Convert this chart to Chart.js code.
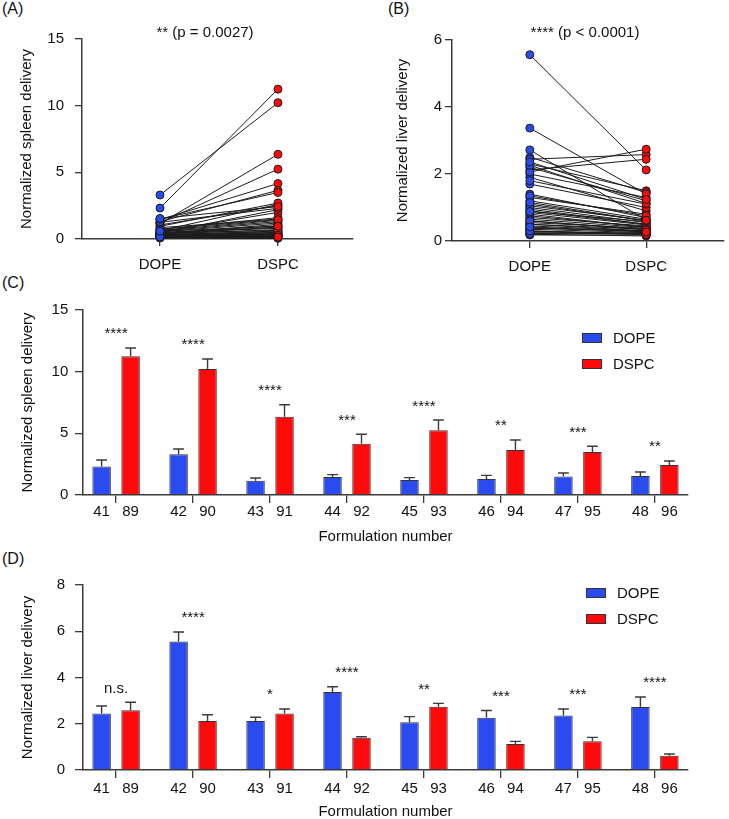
<!DOCTYPE html>
<html><head><meta charset="utf-8">
<script src="https://cdn.jsdelivr.net/npm/chart.js@4.4.0/dist/chart.umd.min.js"></script>
<style>
html,body{margin:0;padding:0;background:#fff;width:729px;height:819px;overflow:hidden;position:relative;}
canvas{position:absolute;}
.lab{position:absolute;font-family:"Liberation Sans",Arial,sans-serif;font-size:16px;line-height:16px;color:#111;}
</style></head><body>
<div class="lab" style="left:2px;top:1px">(A)</div>
<div class="lab" style="left:388px;top:1px">(B)</div>
<div class="lab" style="left:2px;top:275px">(C)</div>
<div class="lab" style="left:2px;top:551px">(D)</div>
<canvas id="cA" width="360" height="285" style="left:0;top:0"></canvas>
<canvas id="cB" width="369" height="285" style="left:360px;top:0"></canvas>
<canvas id="cC" width="729" height="265" style="left:0;top:285px"></canvas>
<canvas id="cD" width="729" height="265" style="left:0;top:560px"></canvas>
<script>
// ---------- data ----------
const pairCategories = ['DOPE', 'DSPC'];
// Panel A: normalized spleen delivery, formulations 1-48 (DOPE) paired with 49-96 (DSPC)
const spleenDOPE = [0.62,0.35,0.18,0.45,0.28,0.12,0.85,0.52,0.22,0.40,1.05,0.30,0.15,0.65,0.48,0.25,0.10,0.38,0.72,0.20,
  0.55,0.32,0.14,0.95,0.42,0.26,0.60,0.18,0.08,0.35,1.25,0.50,0.22,0.30,0.75,0.12,0.44,0.28,0.16,0.58,
  2.32,3.30,1.16,1.46,1.22,1.30,1.49,1.54];
const spleenDSPC = [2.6,0.9,0.3,2.2,0.5,0.15,1.5,2.0,0.4,1.1,2.5,0.6,0.2,1.4,0.8,0.35,0.1,0.7,1.6,0.25,
  1.2,0.45,0.12,2.7,1.0,0.3,1.3,0.18,0.05,0.55,2.3,0.85,0.2,0.4,1.45,0.08,0.65,0.28,0.15,0.95,
  11.24,10.22,6.35,4.16,5.24,3.65,3.49,2.43];
// Panel B: normalized liver delivery
const liverDOPE = [0.9,1.4,0.5,2.3,0.7,0.25,1.9,1.1,0.35,0.8,2.5,0.6,0.2,1.3,1.0,0.45,0.18,0.75,2.0,0.3,
  1.2,0.55,0.4,2.2,0.95,0.28,1.7,0.65,0.22,0.85,1.8,1.05,0.38,0.5,1.35,0.3,0.88,0.6,0.42,1.15,
  2.44,5.56,2.12,3.37,2.06,2.26,2.36,2.72];
const liverDSPC = [0.5,0.7,0.3,1.5,0.45,0.2,0.9,0.6,0.25,0.4,1.45,0.35,0.15,0.8,0.55,0.3,0.18,0.42,1.3,0.22,
  0.65,0.38,0.28,1.2,0.5,0.2,1.0,0.4,0.25,0.48,1.1,0.62,0.3,0.35,0.75,0.2,0.58,0.33,0.27,0.6,
  2.58,2.12,2.44,1.40,2.74,1.12,1.24,0.62];
const spleenTicks = [0, 5, 10, 15];
const liverPairTicks = [0, 2, 4, 6];
const liverBarTicks = [0, 2, 4, 6, 8];

// Panels C and D
const formDOPE = ['41','42','43','44','45','46','47','48'];
const formDSPC = ['89','90','91','92','93','94','95','96'];
const spleenMeanDOPE = [2.32,3.30,1.16,1.46,1.22,1.30,1.49,1.54];
const spleenErrDOPE  = [0.52,0.43,0.22,0.19,0.19,0.29,0.29,0.32];
const spleenMeanDSPC = [11.24,10.22,6.35,4.16,5.24,3.65,3.49,2.43];
const spleenErrDSPC  = [0.68,0.81,0.97,0.76,0.84,0.81,0.46,0.33];
const spleenSig = ['****','****','****','***','****','**','***','**'];
const liverMeanDOPE = [2.44,5.56,2.12,3.37,2.06,2.26,2.36,2.72];
const liverErrDOPE  = [0.33,0.41,0.16,0.23,0.25,0.31,0.28,0.44];
const liverMeanDSPC = [2.58,2.12,2.44,1.40,2.74,1.12,1.24,0.62];
const liverErrDSPC  = [0.35,0.27,0.20,0.04,0.14,0.12,0.17,0.07];
const liverSig = ['n.s.','****','*','****','**','***','***','****'];

// ---------- style ----------
const FONT = '"Liberation Sans", Arial, Helvetica, sans-serif';
const BLUE = '#2a4bef', RED = '#ff0a0a', AX = '#3a3a3a', TXT = '#111', EDGE = '#333';
Chart.defaults.font.family = FONT;
Chart.defaults.font.size = 15;
Chart.defaults.color = TXT;

function fixedText(text, x, y) {
  return { id: 'fixedText', afterDraw(chart) {
    const c = chart.ctx; c.save(); c.font = '15px ' + FONT; c.fillStyle = TXT;
    c.textAlign = 'center'; c.textBaseline = 'middle'; c.fillText(text, x, y); c.restore(); } };
}

function pairChart(id, dope, dspc, o) {
  const ds = dope.map((v, i) => ({
    data: [{x: 0, y: v}, {x: 1, y: dspc[i]}], showLine: true, borderColor: '#1c1c1c',
    borderWidth: 1, pointRadius: 0, order: 1, clip: false }));
  ds.push({ label: 'DOPE', data: dope.map(v => ({x: 0, y: v})), pointRadius: 4,
    pointBackgroundColor: BLUE, pointBorderColor: '#1c1c1c', pointBorderWidth: 1, order: 0, clip: false });
  ds.push({ label: 'DSPC', data: dspc.map(v => ({x: 1, y: v})), pointRadius: 4,
    pointBackgroundColor: RED, pointBorderColor: '#1c1c1c', pointBorderWidth: 1, order: 0, clip: false });
  new Chart(document.getElementById(id), {
    type: 'scatter', data: { datasets: ds },
    options: {
      responsive: false, animation: false, devicePixelRatio: 1, events: [],
      layout: { padding: { top: o.top, right: o.right, left: 0, bottom: 0 } },
      plugins: { legend: { display: false }, tooltip: { enabled: false } },
      scales: {
        x: { type: 'linear', min: o.xMin, max: o.xMax,
          afterBuildTicks: s => { s.ticks = pairCategories.map((c, i) => ({ value: i })); },
          afterFit: s => { s.height = o.xH; },
          ticks: { callback: (v, i) => pairCategories[i], padding: 9.5, color: TXT, maxRotation: 0, autoSkip: false },
          grid: { drawOnChartArea: false, tickLength: 7, color: AX, lineWidth: 1.3 },
          border: { color: AX, width: 1.5 } },
        y: { min: 0, max: o.yMax,
          afterBuildTicks: s => { s.ticks = o.yTicks.map(v => ({ value: v })); },
          afterFit: s => { s.width = o.left; },
          ticks: { padding: o.yPad, color: TXT },
          grid: { drawOnChartArea: false, tickLength: 7, color: AX, lineWidth: 1.3 },
          border: { color: AX, width: 1.5 },
          title: { display: true, text: o.yTitle, color: TXT, font: { size: 15 }, padding: { top: o.titlePad, bottom: 0 } } }
      }
    },
    plugins: [fixedText(o.title, o.tx, o.ty)]
  });
}

function errorBars() {
  return { id: 'errorBars', afterDatasetsDraw(chart) {
    const { ctx, scales: { y } } = chart;
    chart.data.datasets.forEach((ds, di) => {
      chart.getDatasetMeta(di).data.forEach((bar, i) => {
        const top = y.getPixelForValue(ds.data[i].y + ds.errors[i]);
        ctx.save(); ctx.strokeStyle = AX; ctx.lineWidth = 1.4; ctx.beginPath();
        ctx.moveTo(bar.x, bar.y); ctx.lineTo(bar.x, top);
        ctx.moveTo(bar.x - 5.4, top); ctx.lineTo(bar.x + 5.4, top);
        ctx.stroke(); ctx.restore();
      });
    });
  } };
}

function sigMarks(labels, gap) {
  return { id: 'sigMarks', afterDatasetsDraw(chart) {
    const { ctx, scales: { x, y } } = chart;
    ctx.save(); ctx.font = '15px ' + FONT; ctx.fillStyle = TXT; ctx.textAlign = 'center'; ctx.textBaseline = 'alphabetic';
    labels.forEach((t, i) => {
      let top = Infinity;
      chart.data.datasets.forEach(ds => { top = Math.min(top, y.getPixelForValue(ds.data[i].y + ds.errors[i])); });
      ctx.fillText(t, x.getPixelForValue(i), top - gap);
    });
    ctx.restore();
  } };
}

function barLabels(off) {
  return { id: 'barLabels', afterDraw(chart) {
    const { ctx, chartArea } = chart;
    ctx.save(); ctx.font = '15px ' + FONT; ctx.fillStyle = TXT; ctx.textAlign = 'center'; ctx.textBaseline = 'middle';
    chart.data.datasets.forEach((ds, di) => {
      chart.getDatasetMeta(di).data.forEach((bar, i) => { ctx.fillText(ds.names[i], bar.x, chartArea.bottom + off); });
    });
    ctx.restore();
  } };
}

function boxLegend(x, y, gap) {
  return { id: 'boxLegend', afterDraw(chart) {
    const ctx = chart.ctx; ctx.save(); ctx.font = '15px ' + FONT; ctx.textBaseline = 'middle'; ctx.textAlign = 'left';
    chart.data.datasets.forEach((ds, i) => {
      const yy = y + i * gap;
      ctx.fillStyle = ds.backgroundColor; ctx.fillRect(x, yy, 20, 10);
      ctx.strokeStyle = EDGE; ctx.lineWidth = 1; ctx.strokeRect(x + 0.5, yy + 0.5, 19, 9);
      ctx.fillStyle = TXT; ctx.fillText(ds.label, x + 31, yy + 5.5);
    });
    ctx.restore();
  } };
}

function barChart(id, mD, eD, mS, eS, sig, o) {
  const mk = (label, m, e, names, col) => ({ label, data: m.map((v, i) => ({ x: i, y: v })), errors: e, names,
    backgroundColor: col, borderColor: EDGE, borderWidth: 1, categoryPercentage: 0.753, barPercentage: 0.638 });
  new Chart(document.getElementById(id), {
    type: 'bar',
    data: { datasets: [mk('DOPE', mD, eD, formDOPE, BLUE), mk('DSPC', mS, eS, formDSPC, RED)] },
    options: {
      responsive: false, animation: false, devicePixelRatio: 1, events: [],
      layout: { padding: { top: 25, right: 41, left: 0, bottom: 0 } },
      plugins: { legend: { display: false }, tooltip: { enabled: false } },
      scales: {
        x: { type: 'linear', min: -0.43, max: 7.43, offset: false,
          afterBuildTicks: s => { s.ticks = formDOPE.map((f, i) => ({ value: i })); },
          afterFit: s => { s.height = 55; },
          ticks: { display: false },
          grid: { drawOnChartArea: false, offset: false, tickLength: 8, color: AX, lineWidth: 1.3 },
          border: { color: AX, width: 1.5 },
          title: { display: true, text: 'Formulation number', color: TXT, font: { size: 15 }, padding: { top: 0, bottom: 4.5 } } },
        y: { min: 0, max: o.yMax,
          afterBuildTicks: s => { s.ticks = o.yTicks.map(v => ({ value: v })); },
          afterFit: s => { s.width = 83; },
          ticks: { padding: o.yPad, color: TXT },
          grid: { drawOnChartArea: false, tickLength: 8, color: AX, lineWidth: 1.3 },
          border: { color: AX, width: 1.5 },
          title: { display: true, text: o.yTitle, color: TXT, font: { size: 15 }, padding: { top: 19, bottom: 0 } } }
      }
    },
    plugins: [errorBars(), sigMarks(sig, 9.5), barLabels(o.labelOff), boxLegend(o.lx, o.ly, 26)]
  });
}

pairChart('cA', spleenDOPE, spleenDSPC, { top: 39, right: 7, left: 82, xH: 46, xMin: -0.661, xMax: 1.636,
  yMax: 15, yTicks: spleenTicks, yPad: 11, titlePad: 18, yTitle: 'Normalized spleen delivery',
  title: '** (p = 0.0027)', tx: 205, ty: 33 });
pairChart('cB', liverDOPE, liverDSPC, { top: 40, right: 2, left: 92, xH: 44, xMin: -0.669, xMax: 1.669,
  yMax: 6, yTicks: liverPairTicks, yPad: 3, titlePad: 34, yTitle: 'Normalized liver delivery',
  title: '**** (p < 0.0001)', tx: 225, ty: 33 });
barChart('cC', spleenMeanDOPE, spleenErrDOPE, spleenMeanDSPC, spleenErrDSPC, spleenSig,
  { yMax: 15, yTicks: spleenTicks, yPad: 6.7, yTitle: 'Normalized spleen delivery', labelOff: 16.5, lx: 582, ly: 48 });
barChart('cD', liverMeanDOPE, liverErrDOPE, liverMeanDSPC, liverErrDSPC, liverSig,
  { yMax: 8, yTicks: liverBarTicks, yPad: 10, yTitle: 'Normalized liver delivery', labelOff: 18.5, lx: 586, ly: 28 });
</script>
</body></html>
